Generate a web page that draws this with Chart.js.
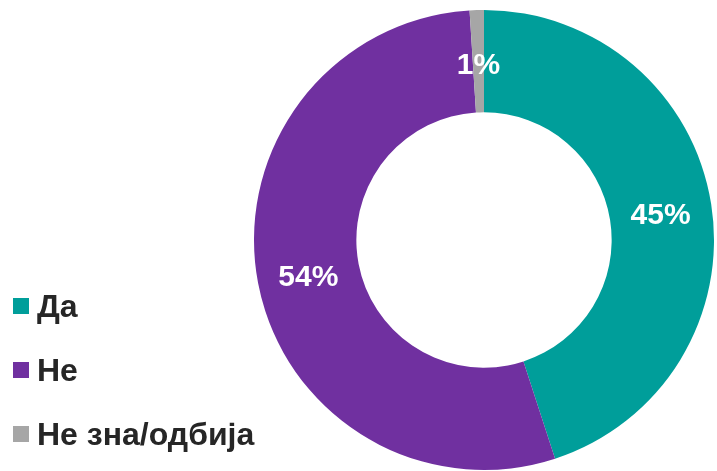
<!DOCTYPE html>
<html lang="sr">
<head>
    <meta charset="UTF-8">
    <title>Да / Не</title>
    <script src="https://cdn.jsdelivr.net/npm/chart.js"></script>
    <style>
        body { margin: 0; background: #fff; }
        #wrap { position: relative; width: 717px; height: 471px; }
        #legenda { position: absolute; left: 13px; top: 0; font-family: "Liberation Sans", Arial, sans-serif; font-weight: bold; font-size: 32px; color: #262626; }
        .stavka { position: absolute; left: 0; white-space: nowrap; display: flex; align-items: center; }
        .kvadrat { width: 16px; height: 16px; margin-right: 8px; }
    </style>
</head>
<body>
    <div id="wrap">
        <canvas id="myChart" width="717" height="471"></canvas>
        <div id="legenda"></div>
    </div>
    <script>
        const kategorije = ['Да', 'Не', 'Не зна/одбија'];
        const procenti = [45, 54, 1];
        const boje = ['#009E9A', '#7030A0', '#A6A6A6'];

        // legenda levo dole
        const legendaY = [306, 370, 434];
        const legenda = document.getElementById('legenda');
        kategorije.forEach(function(k, i) {
            const el = document.createElement('div');
            el.className = 'stavka';
            el.style.top = (legendaY[i] - 20) + 'px';
            el.style.height = '40px';
            el.innerHTML = '<span class="kvadrat" style="background:' + boje[i] + '"></span>' + k;
            legenda.appendChild(el);
        });

        const oznake = {
            id: 'oznake',
            afterDatasetsDraw(chart) {
                const c = chart.ctx;
                const meta = chart.getDatasetMeta(0);
                c.save();
                c.fillStyle = '#ffffff';
                c.font = 'bold 30px "Liberation Sans", Arial, sans-serif';
                c.textAlign = 'center';
                c.textBaseline = 'middle';
                meta.data.forEach(function(arc, i) {
                    const p = arc.tooltipPosition();
                    c.fillText(procenti[i] + '%', p.x, p.y + 4);
                });
                c.restore();
            }
        };

        const ctx = document.getElementById('myChart').getContext('2d');
        const myChart = new Chart(ctx, {
            type: 'doughnut',
            data: {
                labels: kategorije,
                datasets: [{
                    data: procenti,
                    backgroundColor: boje,
                    borderWidth: 0
                }]
            },
            options: {
                responsive: false,
                animation: false,
                cutout: '55.5%',
                layout: { padding: { left: 254, right: 3, top: 10, bottom: 1 } },
                plugins: {
                    legend: { display: false },
                    tooltip: { enabled: false }
                }
            },
            plugins: [oznake]
        });
    </script>
</body>
</html>
